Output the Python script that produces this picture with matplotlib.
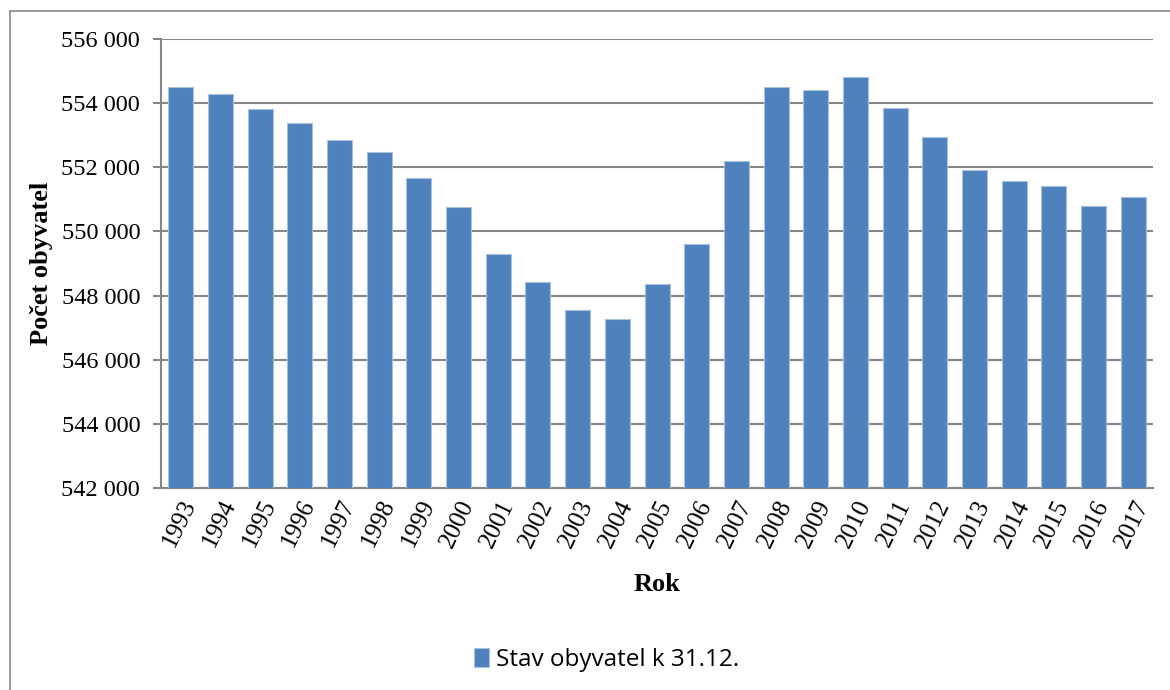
import matplotlib.pyplot as plt
from matplotlib.patches import Rectangle
from matplotlib.ticker import FuncFormatter

# data
roky = [str(r) for r in range(1993, 2018)]
obyvatel = [554490, 554290, 553820, 553370, 552840, 552470, 551650, 550770,
            549310, 548410, 547540, 547280, 548350, 549620, 552200, 554510,
            554410, 554800, 553850, 552940, 551900, 551580, 551410, 550800,
            551080]
y_ticks = list(range(542000, 556001, 2000))

fig = plt.figure(figsize=(11.7, 6.9), dpi=100)
ax = fig.add_axes([0.1376, 0.2928, 0.8479, 0.6507])

# vnejsi ramecek
fig.patches.append(Rectangle((10 / 1170, -0.1), 1.2, 1 - 11 / 690 + 0.1,
                             transform=fig.transFigure, fill=False,
                             edgecolor="#868686", linewidth=1.2))

bars = ax.bar(roky, obyvatel, width=0.63, color="#4F81BD",
              edgecolor="#A7C0DE", linewidth=0.8, zorder=3,
              label="Stav obyvatel k 31.12.")

ax.set_ylim(542000, 556000)
ax.set_xlim(-0.5, len(roky) - 0.5)
ax.set_yticks(y_ticks)
ax.yaxis.set_major_formatter(FuncFormatter(lambda v, p: f"{int(v):,}".replace(",", " ")))
ax.grid(axis="y", color="#868686", linewidth=1.5, zorder=0)

for s in ["top", "right"]:
    ax.spines[s].set_visible(False)
for s in ["left", "bottom"]:
    ax.spines[s].set_color("#868686")
    ax.spines[s].set_linewidth(1.5)

serif = "Liberation Serif"
ax.tick_params(axis="y", length=6, width=1.5, color="#868686", pad=9,
               labelsize=17.5, labelfontfamily=serif)
ax.tick_params(axis="x", length=0, pad=6, labelsize=18, labelfontfamily=serif,
               labelrotation=64)
for lab in ax.get_xticklabels():
    lab.set_ha("right")
    lab.set_rotation_mode("anchor")

ax.set_ylabel("Počet obyvatel", family=serif, fontsize=19, fontweight="bold", labelpad=6)
ax.set_xlabel("Rok", family=serif, fontsize=19, fontweight="bold", labelpad=16)

fig.legend(handles=[bars], labels=["Stav obyvatel k 31.12."], loc="center",
           bbox_to_anchor=(607 / 1170, 1 - 660 / 690), frameon=False,
           prop={"family": ["Open Sans", "DejaVu Sans"], "size": 17.5},
           handlelength=0.6, handleheight=0.8, handletextpad=0.3)

plt.savefig("out.png", dpi=100)
plt.close()
